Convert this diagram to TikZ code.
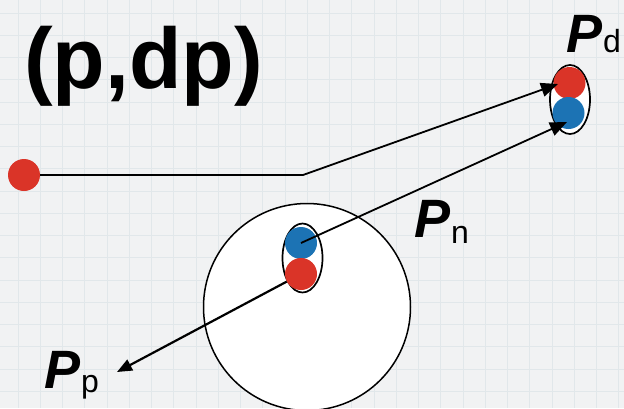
\documentclass[tikz,border=0pt]{standalone}
\usepackage{fontspec}
\setmainfont{Liberation Sans}
\usetikzlibrary{arrows.meta,shapes.geometric}
\definecolor{bgc}{RGB}{241,242,243}
\definecolor{gridc}{RGB}{225,231,234}
\definecolor{ballred}{RGB}{218,52,40}
\definecolor{ballblue}{RGB}{28,115,180}
\newcommand\plab[2]{{\fontsize{54}{54}\selectfont\bfseries\itshape P}\kern1pt\raisebox{#2}{\fontsize{32}{32}\selectfont #1}}
\begin{document}
\begin{tikzpicture}[x=1pt,y=-1pt,
  ball/.style={circle,inner sep=0pt,minimum size=32pt},
  redball/.style={ball,fill=ballred},
  blueball/.style={ball,fill=ballblue},
  pairring/.style={ellipse,draw=black,line width=1.7pt,fill=white,inner sep=0pt,minimum width=40pt,minimum height=69pt},
  nucleus/.style={circle,draw=black,line width=1.5pt,fill=white,inner sep=0pt,minimum size=207pt},
  conn/.style={draw=black,line width=1.8pt},
  arr/.style={conn,-{Triangle[length=17pt,width=14pt]}},
  lab/.style={anchor=base west,inner sep=0pt}]
\useasboundingbox (0,0) rectangle (624,408);
\begin{scope}
\clip (0,0) rectangle (624,408);
\fill[bgc] (0,0) rectangle (624,408);
\foreach \i in {0,...,28} \draw[gridc,line width=1pt] (18+\i*22.25,0) -- (18+\i*22.25,408);
\foreach \j in {0,...,18} \draw[gridc,line width=1pt] (0,13+\j*22.25) -- (624,13+\j*22.25);
\node[nucleus] (nuc) at (307,307) {};
\end{scope}
% title
\node[lab,font=\fontsize{86}{86}\selectfont\bfseries] (title) at (24,88) {(p,dp)};
% rings and balls
\node[pairring] (ringc) at (302.5,258) {};
\node[pairring] (ringd) at (570,99.5) {};
\node[redball] (reddot) at (24,175) {};
\node[blueball] (cblue) at (301,243) {};
\node[redball] (cred) at (301,274) {};
\node[redball] (dred) at (569.5,83) {};
\node[blueball] (dblue) at (568.5,113) {};
% coordinates
\coordinate (bend) at (303,175);
\coordinate (tipd) at (558,84);
\coordinate (tipb) at (567,122);
\coordinate (tipp) at (117,372);
% connectors
\draw[arr] (reddot) -- (bend) -- (tipd);
\draw[arr] (cblue.center) -- (tipb);
\draw[arr,line width=2.2pt,-{Triangle[length=15pt,width=12pt]}] (cred) -- (tipp);
% labels
\node[lab] (labd) at (566,52) {\plab{d}{0pt}};
\node[lab] (labn) at (414,237) {\plab{n}{-6pt}};
\node[lab] (labp) at (44,388) {\plab{p}{-4pt}};
\end{tikzpicture}
\end{document}
